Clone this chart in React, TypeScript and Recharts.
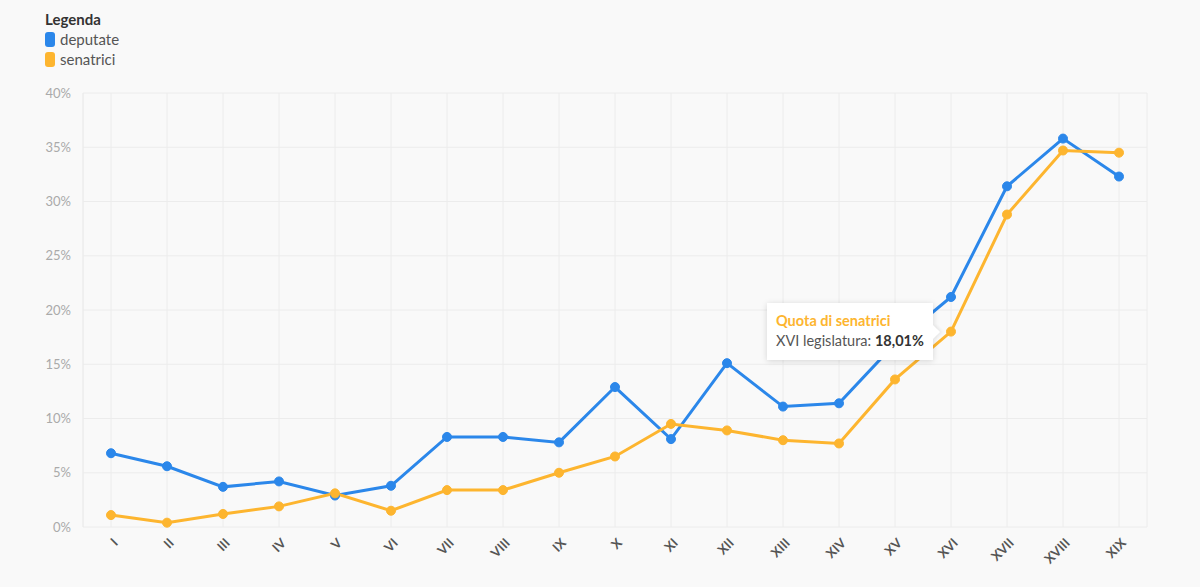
import { LineChart, Line, XAxis, YAxis, CartesianGrid, Tooltip } from 'recharts'

const legislature = [
  'I', 'II', 'III', 'IV', 'V', 'VI', 'VII', 'VIII', 'IX', 'X',
  'XI', 'XII', 'XIII', 'XIV', 'XV', 'XVI', 'XVII', 'XVIII', 'XIX',
]
const deputate = [
  6.8, 5.6, 3.7, 4.2, 2.9, 3.8, 8.3, 8.3, 7.8, 12.9,
  8.1, 15.1, 11.1, 11.4, 16.9, 21.2, 31.4, 35.8, 32.3,
]
const senatrici = [
  1.1, 0.4, 1.2, 1.9, 3.1, 1.5, 3.4, 3.4, 5.0, 6.5,
  9.5, 8.9, 8.0, 7.7, 13.6, 18.01, 28.8, 34.7, 34.5,
]
const yTicks = [0, 5, 10, 15, 20, 25, 30, 35, 40]

const series = [
  { key: 'deputate', label: 'deputate', color: '#2b87ea' },
  { key: 'senatrici', label: 'senatrici', color: '#fdb52f' },
]

const data = legislature.map((leg, i) => ({
  leg,
  deputate: deputate[i],
  senatrici: senatrici[i],
}))

const FONT = 'Lato, "Noto Sans", sans-serif'
const GRID = '#ececec'

function RotatedTick({ x, y, payload }: any) {
  return (
    <g transform={`translate(${x + 5},${y + 6})`}>
      <text
        x={0}
        y={0}
        dy={4}
        textAnchor="end"
        transform="rotate(-45)"
        fill="#555"
        fontSize={13}
        fontWeight={700}
        fontFamily={FONT}
      >
        {payload.value}
      </text>
    </g>
  )
}

function SenatriciTooltip({ active, payload, label }: any) {
  if (!active || !payload) return null
  const item = payload.find((p: any) => p.dataKey === 'senatrici')
  if (!item) return null
  return (
    <div
      style={{
        position: 'relative',
        background: '#fff',
        padding: '8px 9px 9px 9px',
        boxShadow: '0 1px 6px rgba(0,0,0,0.15)',
        fontFamily: FONT,
        fontSize: 14.5,
        lineHeight: '20px',
        whiteSpace: 'nowrap',
      }}
    >
      <div style={{ color: '#fdb52f', fontWeight: 700 }}>Quota di senatrici</div>
      <div style={{ color: '#555' }}>
        {label} legislatura:{' '}
        <b style={{ color: '#333' }}>{item.value.toFixed(2).replace('.', ',')}%</b>
      </div>
      <div
        style={{
          position: 'absolute',
          right: -5,
          top: 24,
          width: 10,
          height: 10,
          background: '#fff',
          transform: 'rotate(45deg)',
          boxShadow: '2px -2px 3px rgba(0,0,0,0.06)',
        }}
      />
    </div>
  )
}

export default function App() {
  return (
    <div
      style={{
        position: 'fixed',
        top: 0,
        left: 0,
        width: 1200,
        height: 587,
        background: '#f9f9f9',
        fontFamily: FONT,
      }}
    >
      <div style={{ position: 'absolute', left: 45, top: 9, zIndex: 2 }}>
        <div style={{ fontWeight: 700, fontSize: 15, color: '#333', lineHeight: '20px' }}>
          Legenda
        </div>
        {series.map((s) => (
          <div
            key={s.key}
            style={{ display: 'flex', alignItems: 'center', fontSize: 15, color: '#555', lineHeight: '20px' }}
          >
            <span
              style={{
                display: 'inline-block',
                width: 10,
                height: 15,
                borderRadius: 3,
                background: s.color,
                marginRight: 5,
              }}
            />
            {s.label}
          </div>
        ))}
      </div>
      <LineChart
        width={1200}
        height={587}
        data={data}
        margin={{ top: 93, right: 53, bottom: 0, left: 0 }}
      >
        <CartesianGrid stroke={GRID} strokeWidth={1} />
        <XAxis
          dataKey="leg"
          axisLine={false}
          tickLine={false}
          interval={0}
          padding={{ left: 28, right: 28 }}
          tick={<RotatedTick />}
          height={60}
        />
        <YAxis
          width={83}
          domain={[0, 40]}
          ticks={yTicks}
          axisLine={{ stroke: GRID }}
          tickLine={false}
          tickMargin={6}
          tickFormatter={(v) => `${v}%`}
          tick={{ fill: '#aaa', fontSize: 13, fontFamily: FONT }}
        />
        <Tooltip
          content={<SenatriciTooltip />}
          defaultIndex={15}
          active
          cursor={false}
          position={{ x: 767, y: 303 }}
          isAnimationActive={false}
          wrapperStyle={{ outline: 'none' }}
        />
        {series.map((s) => (
          <Line
            key={s.key}
            dataKey={s.key}
            name={s.label}
            stroke={s.color}
            strokeWidth={3}
            dot={{ r: 4.5, fill: s.color, stroke: s.color, strokeWidth: 1 }}
            activeDot={false}
            isAnimationActive={false}
          />
        ))}
      </LineChart>
    </div>
  )
}
